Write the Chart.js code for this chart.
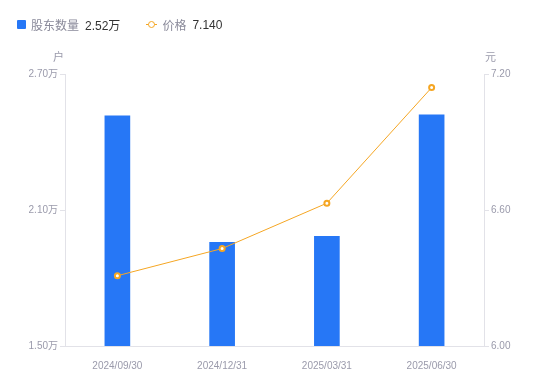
<!DOCTYPE html>
<html>
<head>
<meta charset="utf-8">
<script src="https://cdn.jsdelivr.net/npm/chart.js@4/dist/chart.umd.min.js"></script>
<style>
    body { margin: 0; background: #fff; font-family: "Liberation Sans", "Noto Sans CJK SC", sans-serif; }
    .wrap { position: relative; width: 550px; height: 381px; }
    .legend { position: absolute; left: 17px; top: 16px; font-size: 12px; display: flex; align-items: center; }
    .legend .item { display: flex; align-items: center; margin-right: 26px; }
    .legend .name { color: #8a8a9a; margin-right: 6px; }
    .legend .val { color: #333; }
    .sq { width: 9px; height: 9px; background: #2677f6; border-radius: 1px; margin-right: 5px; }
    .ln { position: relative; width: 11px; height: 9px; margin-right: 5px; }
    .ln::before { content: ''; position: absolute; left: 0; right: 0; top: 4px; height: 1px; background: #f5a623; }
    .ln::after { content: ''; position: absolute; left: 2px; top: 1px; width: 5px; height: 5px; border: 1.5px solid #f5a623; border-radius: 50%; background: #fff; }
</style>
</head>
<body>
<div class="wrap">
    <div class="legend">
        <div class="item"><div class="sq"></div><span class="name">股东数量</span><span class="val">2.52万</span></div>
        <div class="item"><div class="ln"></div><span class="name">价格</span><span class="val">7.140</span></div>
    </div>
    <canvas id="c" width="550" height="381"></canvas>
</div>
<script>
const categories = ['2024/09/30', '2024/12/31', '2025/03/31', '2025/06/30'];
const holders = [2.515, 1.957, 1.984, 2.52];   // 万户
const prices = [6.31, 6.43, 6.63, 7.14];        // 元

const tickColor = '#9a9aab';
const axisColor = '#e2e2e8';
const fontFamily = '"Liberation Sans", "Noto Sans CJK SC", sans-serif';

const unitTitles = {
    id: 'unitTitles',
    afterDraw(chart) {
        const { ctx, chartArea } = chart;
        ctx.save();
        ctx.font = '11px ' + fontFamily;
        ctx.fillStyle = tickColor;
        ctx.textBaseline = 'middle';
        ctx.textAlign = 'right';
        ctx.fillText('户', chartArea.left - 1, chartArea.top - 16);
        ctx.textAlign = 'left';
        ctx.fillText('元', chartArea.right + 1, chartArea.top - 16);
        ctx.restore();
    }
};

new Chart(document.getElementById('c'), {
    data: {
        labels: categories,
        datasets: [
            {
                type: 'line',
                label: '价格',
                data: prices,
                yAxisID: 'y1',
                borderColor: '#f5a623',
                borderWidth: 1,
                pointRadius: 2.5,
                pointBorderWidth: 2,
                pointBackgroundColor: '#fff',
                pointBorderColor: '#f5a623',
                tension: 0,
                order: 0
            },
            {
                type: 'bar',
                label: '股东数量',
                data: holders,
                yAxisID: 'y',
                backgroundColor: '#2677f6',
                barThickness: 25,
                order: 1
            }
        ]
    },
    options: {
        responsive: false,
        animation: false,
        layout: { padding: { top: 74, left: 0, right: 0, bottom: 0 } },
        plugins: { legend: { display: false }, tooltip: { enabled: false } },
        scales: {
            x: {
                grid: { display: false },
                border: { color: axisColor },
                ticks: { color: tickColor, font: { size: 10, family: fontFamily }, padding: 6, maxRotation: 0 },
                afterFit: s => { s.height = 35; }
            },
            y: {
                position: 'left',
                min: 1.5,
                max: 2.7,
                ticks: {
                    count: 3,
                    color: tickColor,
                    font: { size: 10, family: fontFamily },
                    padding: 2,
                    callback: v => v.toFixed(2) + '万'
                },
                grid: { drawOnChartArea: false, drawTicks: true, tickLength: 5, color: axisColor },
                border: { color: axisColor },
                afterFit: s => { s.width = 65; }
            },
            y1: {
                position: 'right',
                min: 6.0,
                max: 7.2,
                ticks: {
                    count: 3,
                    color: tickColor,
                    font: { size: 10, family: fontFamily },
                    padding: 2,
                    callback: v => v.toFixed(2)
                },
                grid: { drawOnChartArea: false, drawTicks: true, tickLength: 5, color: axisColor },
                border: { color: axisColor },
                afterFit: s => { s.width = 66; }
            }
        }
    },
    plugins: [unitTitles]
});
</script>
</body>
</html>
